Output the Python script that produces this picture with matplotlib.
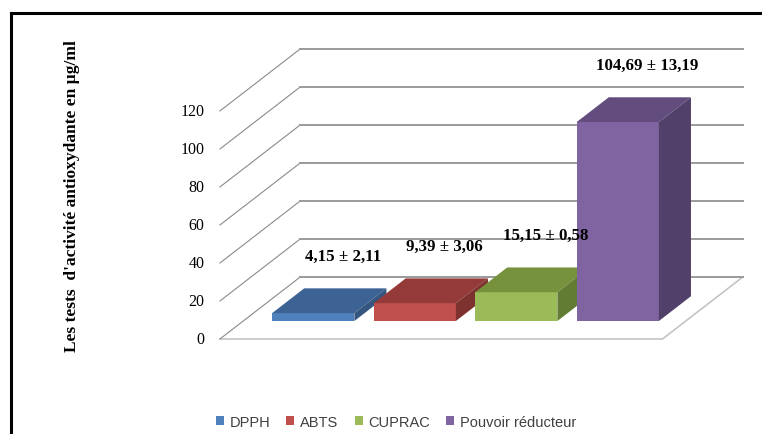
import matplotlib.pyplot as plt
from matplotlib.patches import Polygon, Patch
from matplotlib.lines import Line2D

# données : moyenne ± écart-type (µg/ml)
tests = ["DPPH", "ABTS", "CUPRAC", "Pouvoir réducteur"]
moyennes = [4.15, 9.39, 15.15, 104.69]
ecarts = [2.11, 3.06, 0.58, 13.19]
graduations = [0, 20, 40, 60, 80, 100, 120]

couleurs_face = ["#4F81BD", "#C0504D", "#9BBB59", "#8064A2"]
couleurs_dessus = ["#3D6395", "#943B39", "#76923C", "#634D7E"]
couleurs_cote = ["#35567F", "#7E322F", "#637C33", "#51406A"]

# projection oblique "3D" : profondeur complète en unités de données
DX, DY = 0.79, 32.6
x0, x1 = -0.69, 3.67          # bords gauche / droit du plancher
d0, d1 = 0.29, 0.69           # position des barres dans la profondeur
largeur = 0.81

fig = plt.figure(figsize=(7.62, 4.35), dpi=100)
ax = fig.add_axes([0, 0, 1, 1])
ax.set_xlim(-2.857, 4.65)
ax.set_ylim(-50, 178.9)
ax.axis("off")

# plancher
ax.add_patch(Polygon([(x0, 0), (x1, 0), (x1 + DX, DY), (x0 + DX, DY)],
                     closed=True, facecolor="white", edgecolor="none", zorder=0))
ax.plot([x0, x1, x1 + DX], [0, 0, DY], color="#c4c4c4", lw=1.2, zorder=1)

# quadrillage (paroi gauche + paroi du fond)
for v in graduations:
    ax.plot([x0, x0 + DX], [v, v + DY], color="#8a8a8a", lw=0.8, zorder=1)
    ax.plot([x0 + DX, x1 + DX], [v + DY, v + DY], color="#9a9a9a", lw=1.4, zorder=1)
    ax.text(x0 - 0.15, v, str(v), ha="right", va="center",
            family="Liberation Serif", fontsize=11.5, color="black")

# barres
dd = d1 - d0
base = d0 * DY
for i, (m, s) in enumerate(zip(moyennes, ecarts)):
    xl = i + d0 * DX - largeur / 2
    xr = xl + largeur
    haut = base + m
    ax.bar(xl + largeur / 2, m, width=largeur, bottom=base,
           color=couleurs_face[i], edgecolor="none", zorder=3 + i)
    ax.add_patch(Polygon([(xl, haut), (xr, haut), (xr + dd * DX, haut + dd * DY),
                          (xl + dd * DX, haut + dd * DY)],
                         closed=True, facecolor=couleurs_dessus[i], edgecolor="none", zorder=3 + i))
    ax.add_patch(Polygon([(xr, base), (xr, haut), (xr + dd * DX, haut + dd * DY),
                          (xr + dd * DX, base + dd * DY)],
                         closed=True, facecolor=couleurs_cote[i], edgecolor="none", zorder=3 + i))
    etiquette = f"{m:.2f} ± {s:.2f}".replace(".", ",")
    ax.text(xl + largeur / 2 + 0.29, haut + 30, etiquette, ha="center", va="center",
            family="Liberation Serif", fontweight="bold", fontsize=12.2, zorder=10)

# titre de l'axe vertical
fig.text(0.0945, 0.549, "Les tests  d'activité antioxydante en µg/ml", rotation=90,
         ha="center", va="center", family="Liberation Serif", fontweight="bold", fontsize=12.5)

# cadre
fig.add_artist(Line2D([11 / 762, 1.0], [1 - 14 / 435] * 2, color="black", lw=2.2))
fig.add_artist(Line2D([11 / 762] * 2, [-0.01, 1 - 14 / 435], color="black", lw=2.2))

# légende
poignees = [Patch(facecolor=c, edgecolor="none", label=t) for c, t in zip(couleurs_face, tests)]
fig.legend(handles=poignees, loc="center", bbox_to_anchor=(396 / 762, 1 - 423 / 435),
           ncol=4, frameon=False, handlelength=0.55, handleheight=0.55, handletextpad=0.4,
           columnspacing=1.1, prop={"family": "Liberation Sans", "size": 10.5},
           labelcolor="#404040")

plt.savefig("out.png", dpi=100)
